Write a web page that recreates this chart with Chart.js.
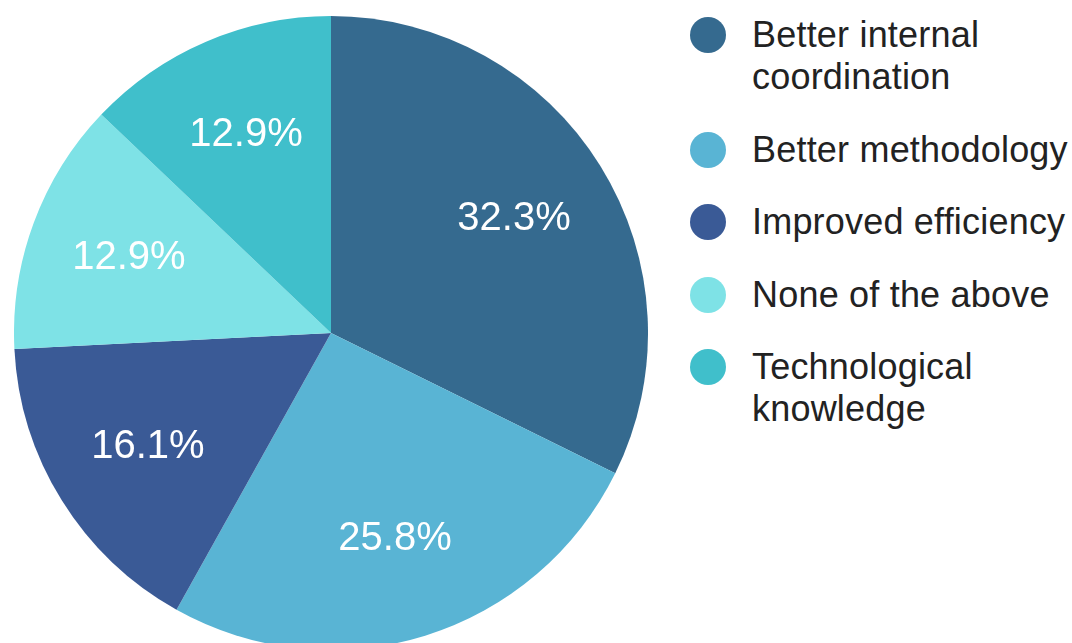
<!DOCTYPE html>
<html>
<head>
<meta charset="utf-8">
<script src="https://cdn.jsdelivr.net/npm/chart.js@4/dist/chart.umd.min.js"></script>
<style>
  html, body { margin: 0; padding: 0; background: #fff; overflow: hidden; }
  body { width: 1072px; height: 643px; position: relative; font-family: "Liberation Sans", Arial, sans-serif; }
  #pieBox { position: absolute; left: 14px; top: 16px; width: 634px; height: 634px; }
  #legend { position: absolute; left: 690px; top: 14px; width: 382px; margin: 0; padding: 0; list-style: none; }
  #legend li { display: flex; align-items: flex-start; margin-bottom: 30.5px; }
  #legend .dot { flex: none; width: 36px; height: 36px; border-radius: 50%; margin-top: 3px; }
  #legend .txt { width: 322px; margin-left: 26px; font-size: 36px; line-height: 42px; color: #222; letter-spacing: 0.2px; }
</style>
</head>
<body>
<div id="pieBox"><canvas id="pieChart"></canvas></div>
<ul id="legend"></ul>
<script>
// answers and their share of respondents (%)
const categories = ['Better internal coordination', 'Better methodology', 'Improved efficiency', 'None of the above', 'Technological knowledge'];
const shares = [32.3, 25.8, 16.1, 12.9, 12.9];
const sliceColors = ['#356a8f', '#59b4d4', '#3a5a96', '#7ee2e6', '#40bfcb'];

// white percentage text inside every slice
const sliceLabels = {
    id: 'sliceLabels',
    afterDatasetsDraw(chart) {
        const ctx = chart.ctx;
        const meta = chart.getDatasetMeta(0);
        ctx.save();
        ctx.font = '40px "Liberation Sans", Arial, sans-serif';
        ctx.fillStyle = '#ffffff';
        ctx.textAlign = 'center';
        ctx.textBaseline = 'middle';
        meta.data.forEach((arc, i) => {
            const p = arc.getProps(['x', 'y', 'startAngle', 'endAngle', 'outerRadius'], true);
            const mid = (p.startAngle + p.endAngle) / 2;
            const r = p.outerRadius * 0.68;
            const text = shares[i].toFixed(1) + '%';
            ctx.fillText(text, p.x + Math.cos(mid) * r, p.y + Math.sin(mid) * r);
        });
        ctx.restore();
    }
};

new Chart(document.getElementById('pieChart'), {
    type: 'pie',
    data: {
        labels: categories,
        datasets: [{
            data: shares,
            backgroundColor: sliceColors,
            borderWidth: 0,
            hoverOffset: 0
        }]
    },
    options: {
        responsive: true,
        maintainAspectRatio: false,
        animation: false,
        layout: { padding: 0 },
        plugins: {
            legend: { display: false },
            tooltip: { enabled: false }
        }
    },
    plugins: [sliceLabels]
});

// legend on the right
const legendEl = document.getElementById('legend');
categories.forEach((name, i) => {
    const li = document.createElement('li');
    const dot = document.createElement('span');
    dot.className = 'dot';
    dot.style.background = sliceColors[i];
    const txt = document.createElement('span');
    txt.className = 'txt';
    txt.textContent = name;
    li.appendChild(dot);
    li.appendChild(txt);
    legendEl.appendChild(li);
});
</script>
</body>
</html>
